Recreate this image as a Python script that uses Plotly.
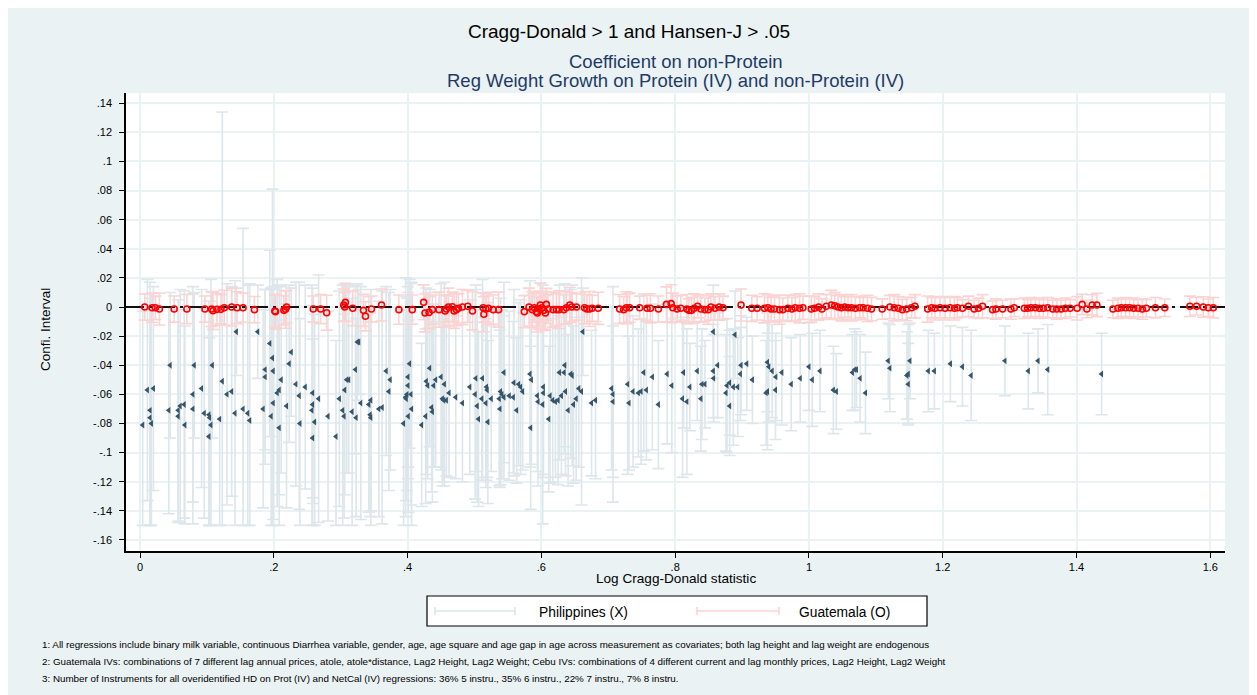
import plotly.graph_objects as go

# ---------------- data ----------------
# Philippines (X): point estimate and half-width of the CI
ph_x = [
    0.004, 0.011, 0.020, 0.015, 0.015, 0.017, 0.045, 0.043, 0.057, 0.057,
    0.060, 0.066, 0.067, 0.081, 0.079, 0.079, 0.092, 0.096, 0.103, 0.104,
    0.106, 0.103, 0.108, 0.119, 0.123, 0.130, 0.137, 0.142, 0.144, 0.154,
    0.161, 0.164, 0.176, 0.184, 0.187, 0.187, 0.194, 0.198, 0.199, 0.196,
    0.199, 0.205, 0.208, 0.208, 0.211, 0.219, 0.223, 0.226, 0.233, 0.238,
    0.239, 0.247, 0.258, 0.258, 0.257, 0.261, 0.258, 0.267, 0.281, 0.293,
    0.298, 0.303, 0.305, 0.306, 0.309, 0.312, 0.317, 0.322, 0.323, 0.325,
    0.327, 0.330, 0.342, 0.345, 0.344, 0.345, 0.357, 0.362, 0.368, 0.372,
    0.374, 0.394, 0.397,
    0.4005, 0.4005, 0.403, 0.399, 0.405, 0.398, 0.401, 0.406, 0.421, 0.427,
    0.428, 0.430, 0.433, 0.436, 0.437, 0.439, 0.442, 0.450, 0.452, 0.454,
    0.455, 0.458, 0.462, 0.472, 0.482, 0.493, 0.501, 0.502, 0.504, 0.506,
    0.511, 0.512, 0.517, 0.518, 0.519, 0.520, 0.525, 0.537, 0.538, 0.539,
    0.541, 0.544, 0.544, 0.552, 0.558, 0.559, 0.563, 0.566, 0.569, 0.572,
    0.583, 0.585, 0.584, 0.594, 0.595, 0.602, 0.603, 0.603, 0.611, 0.613,
    0.617, 0.621, 0.625, 0.627, 0.630, 0.634, 0.635, 0.636, 0.640, 0.644,
    0.646, 0.648, 0.652, 0.656, 0.660, 0.662, 0.675, 0.681, 0.705, 0.707,
    0.707, 0.729, 0.731, 0.737, 0.745, 0.749, 0.757, 0.753, 0.766, 0.775,
    0.788, 0.795,
    0.811, 0.8175, 0.8125, 0.822, 0.833, 0.8385, 0.840, 0.8445, 0.857, 0.857,
    0.8575, 0.8635, 0.876, 0.8775, 0.8815, 0.8815, 0.887, 0.8935, 0.8895, 0.8975,
    0.8985, 0.907, 0.9155, 0.936, 0.938, 0.938, 0.940, 0.945, 0.9505, 0.950,
    0.9595, 0.9735, 0.987, 1.000, 1.005, 1.0165, 1.0365, 1.041, 1.065, 1.0685,
    1.071, 1.0765, 1.0845, 1.1185, 1.121, 1.1465, 1.1485, 1.1485, 1.151, 1.1785,
    1.1875, 1.2115, 1.2295, 1.2425, 1.293, 1.328, 1.3425, 1.357, 1.4375,
]
ph_y = [
    -0.081, -0.057, -0.056, -0.071, -0.076, -0.080, -0.040, -0.071, -0.071, -0.075,
    -0.068, -0.067, -0.081, -0.040, -0.060, -0.070, -0.056, -0.073, -0.074, -0.076,
    -0.081, -0.089, -0.040, -0.077, -0.051, -0.060, -0.058, -0.073, -0.017, -0.070,
    -0.073, -0.078, -0.017, -0.070, -0.043, -0.048, -0.025, -0.035, -0.044, -0.075,
    -0.066, -0.059, -0.057, -0.083, -0.050, -0.068, -0.039, -0.031, -0.053, -0.061,
    -0.080, -0.055, -0.059, -0.067, -0.071, -0.079, -0.090, -0.063, -0.075, -0.089,
    -0.063, -0.071, -0.075, -0.057, -0.050, -0.050, -0.072, -0.043, -0.076, -0.024,
    -0.024, -0.066, -0.067, -0.064, -0.074, -0.076, -0.070, -0.069, -0.044, -0.058,
    -0.050, -0.080, -0.062,
    -0.048, -0.054, -0.039, -0.060, -0.060, -0.063, -0.075, -0.070, -0.081, -0.075,
    -0.051, -0.054, -0.042, -0.069, -0.072, -0.054, -0.050, -0.048, -0.063, -0.064,
    -0.053, -0.064, -0.059, -0.062, -0.066, -0.055, -0.060, -0.049, -0.068, -0.077,
    -0.063, -0.049, -0.066, -0.055, -0.057, -0.079, -0.063, -0.063, -0.070, -0.058,
    -0.060, -0.045, -0.062, -0.061, -0.062, -0.052, -0.071, -0.053, -0.055, -0.058,
    -0.046, -0.050, -0.083, -0.061, -0.065, -0.067, -0.055, -0.059, -0.077, -0.061,
    -0.064, -0.065, -0.064, -0.045, -0.061, -0.045, -0.040, -0.058, -0.071, -0.046,
    -0.047, -0.067, -0.063, -0.056, -0.058, -0.017, -0.066, -0.064, -0.056, -0.060,
    -0.065, -0.053, -0.066, -0.058, -0.059, -0.058, -0.057, -0.045, -0.048, -0.067,
    -0.046, -0.054,
    -0.063, -0.065, -0.045, -0.055, -0.044, -0.063, -0.053, -0.053, -0.017, -0.044,
    -0.049, -0.040, -0.059, -0.054, -0.052, -0.068, -0.055, -0.055, -0.019, -0.046,
    -0.040, -0.039, -0.050, -0.059, -0.058, -0.038, -0.041, -0.044, -0.048, -0.057,
    -0.045, -0.053, -0.049, -0.041, -0.050, -0.044, -0.057, -0.058, -0.045, -0.043,
    -0.043, -0.049, -0.059, -0.037, -0.042, -0.047, -0.046, -0.053, -0.037, -0.044,
    -0.044, -0.039, -0.041, -0.047, -0.037, -0.044, -0.037, -0.043, -0.046,
]
ph_hw = [
    0.078, 0.076, 0.070, 0.088, 0.082, 0.078, 0.050, 0.071, 0.076, 0.073,
    0.080, 0.078, 0.068, 0.050, 0.074, 0.079, 0.068, 0.072, 0.078, 0.080,
    0.100, 0.068, 0.050, 0.076, 0.185, 0.076, 0.072, 0.091, 0.030, 0.124,
    0.088, 0.094, 0.032, 0.068, 0.055, 0.060, 0.064, 0.116, 0.056, 0.088,
    0.080, 0.078, 0.072, 0.074, 0.064, 0.070, 0.054, 0.044, 0.070, 0.078,
    0.072, 0.070, 0.072, 0.068, 0.086, 0.074, 0.068, 0.085, 0.072, 0.066,
    0.074, 0.086, 0.070, 0.072, 0.064, 0.064, 0.078, 0.058, 0.068, 0.040,
    0.036, 0.080, 0.074, 0.076, 0.070, 0.076, 0.074, 0.080, 0.058, 0.068,
    0.062, 0.078, 0.082,
    0.062, 0.064, 0.058, 0.066, 0.076, 0.070, 0.066, 0.087, 0.056, 0.060,
    0.064, 0.064, 0.054, 0.058, 0.062, 0.056, 0.060, 0.064, 0.060, 0.056,
    0.070, 0.052, 0.058, 0.056, 0.054, 0.060, 0.072, 0.064, 0.066, 0.060,
    0.056, 0.068, 0.058, 0.064, 0.060, 0.056, 0.050, 0.060, 0.054, 0.064,
    0.058, 0.062, 0.056, 0.058, 0.052, 0.064, 0.050, 0.056, 0.060, 0.054,
    0.064, 0.058, 0.056, 0.052, 0.058, 0.082, 0.062, 0.056, 0.050, 0.060,
    0.056, 0.052, 0.058, 0.060, 0.054, 0.056, 0.056, 0.058, 0.052, 0.058,
    0.062, 0.054, 0.056, 0.054, 0.078, 0.030, 0.050, 0.054, 0.056, 0.074,
    0.052, 0.062, 0.046, 0.052, 0.044, 0.050, 0.048, 0.054, 0.050, 0.044,
    0.048, 0.046,
    0.054, 0.050, 0.038, 0.030, 0.034, 0.036, 0.038, 0.030, 0.032, 0.032,
    0.030, 0.036, 0.040, 0.046, 0.036, 0.034, 0.040, 0.034, 0.030, 0.032,
    0.034, 0.032, 0.030, 0.036, 0.040, 0.034, 0.038, 0.032, 0.030, 0.034,
    0.036, 0.032, 0.030, 0.030, 0.032, 0.028, 0.030, 0.026, 0.026, 0.028,
    0.026, 0.030, 0.028, 0.026, 0.030, 0.030, 0.034, 0.028, 0.026, 0.028,
    0.026, 0.026, 0.027, 0.031, 0.024, 0.026, 0.022, 0.031, 0.028,
]

# Guatemala (O): point estimate and half-width of the CI
gt_x = [
    0.007, 0.018, 0.023, 0.029, 0.051, 0.070, 0.097, 0.107, 0.109, 0.115,
    0.121, 0.126, 0.137, 0.145, 0.154, 0.171, 0.2015, 0.2025, 0.215, 0.2175,
    0.219, 0.259, 0.270, 0.279, 0.3045, 0.307, 0.306, 0.318, 0.334, 0.337,
    0.346, 0.361, 0.387,
    0.407, 0.424, 0.426, 0.432, 0.437, 0.447, 0.456, 0.458, 0.461, 0.467,
    0.4695, 0.473, 0.476, 0.482, 0.490, 0.497, 0.513, 0.514, 0.517, 0.521,
    0.528, 0.536, 0.5745, 0.5815, 0.5865, 0.5895, 0.5925, 0.594, 0.5965, 0.5985,
    0.601, 0.6035, 0.606, 0.6075, 0.610, 0.6175, 0.6225, 0.6265, 0.6335, 0.6375,
    0.6425, 0.6455, 0.6525, 0.6645, 0.668, 0.672, 0.676, 0.685, 0.717, 0.723,
    0.727, 0.732, 0.747, 0.758, 0.763, 0.775, 0.787, 0.794, 0.7965, 0.803,
    0.8085, 0.8175, 0.8205, 0.8245, 0.8285, 0.8335, 0.8385, 0.8445, 0.8495, 0.8535,
    0.8595, 0.866, 0.8715, 0.8985, 0.9145, 0.9225, 0.9335, 0.9385, 0.9435, 0.9485,
    0.956, 0.961, 0.9685, 0.9745, 0.9795, 0.986, 0.991, 1.0035, 1.0085, 1.0145,
    1.0195, 1.026, 1.0335, 1.0385, 1.0435, 1.0485, 1.0535, 1.0585, 1.0635, 1.0695,
    1.076, 1.081, 1.0875, 1.0935, 1.1095, 1.121, 1.1275, 1.1335, 1.1395, 1.146,
    1.1535, 1.1585, 1.1775, 1.1835, 1.1885, 1.196, 1.2035, 1.211, 1.2175,
    1.222, 1.2295, 1.2385, 1.247, 1.2535, 1.2595, 1.2745, 1.2795, 1.2895, 1.302,
    1.307, 1.322, 1.327, 1.332, 1.3385, 1.3445, 1.3505, 1.357, 1.3645, 1.3705,
    1.377, 1.3835, 1.3905, 1.401, 1.4085, 1.4155, 1.4235, 1.4305, 1.4545, 1.462,
    1.467, 1.4735, 1.4795, 1.4855, 1.492, 1.4985, 1.5045, 1.518, 1.532, 1.5695,
    1.5795, 1.5895, 1.597, 1.6045,
]
gt_y = [
    0.0, -0.0005, -0.0005, -0.0014, -0.0014, -0.0014, -0.0014, -0.0014, -0.0025, -0.0016,
    -0.0016, -0.0005, 0.0, -0.0005, -0.0005, -0.0018, -0.0027, -0.0032, -0.0023, -0.0016,
    0.0, -0.0014, -0.0014, -0.0039, 0.0014, 0.0032, 0.0, -0.0009, -0.0023, -0.0064,
    -0.0014, 0.0014, -0.0018,
    -0.0018, 0.0032, -0.0041, -0.0037, -0.0018, -0.0018, -0.0027, -0.0014, 0.0, 0.0002,
    -0.0027, -0.0018, -0.0009, 0.0, 0.0005, -0.0027, -0.0005, -0.005, -0.0014, -0.0009,
    -0.0018, -0.0018, -0.0032, 0.0, -0.0018, -0.0005, -0.0032, -0.0041, -0.0014, 0.0014,
    -0.0005, -0.0023, -0.0041, 0.0018, -0.0014, -0.0018, -0.0018, -0.0018, -0.0018, -0.0005,
    0.0014, 0.0, 0.0, -0.0005, -0.0014, -0.0014, -0.0009, -0.0009, -0.0014, -0.0018,
    -0.0005, -0.0005, -0.0005, -0.0009, -0.0009, -0.0014, 0.0018, 0.0023, -0.0005, -0.0014,
    -0.0009, -0.0014, -0.0023, -0.0023, -0.0009, 0.0005, -0.0014, -0.0018, -0.0018, 0.0,
    -0.0009, 0.0, -0.0005, 0.0014, -0.0009, -0.0009, -0.0009, -0.0005, -0.0014, -0.0014,
    -0.0018, -0.0018, -0.0009, -0.0014, -0.0005, -0.0009, -0.0005, -0.0014, -0.0009, 0.0,
    -0.0014, 0.0005, 0.0014, 0.0009, 0.0, -0.0005, 0.0, -0.0005, -0.0005, -0.0009,
    -0.0005, -0.0005, -0.0009, -0.0014, -0.0014, 0.0, -0.0005, -0.0009, -0.0018, -0.0014,
    -0.0005, 0.0005, -0.0014, -0.0005, -0.0009, -0.0005, -0.0009, -0.0005, -0.0009,
    -0.0005, -0.0009, 0.0005, -0.0014, -0.0009, 0.0005, -0.0018, -0.0014, -0.0014, -0.0014,
    -0.0005, -0.0009, -0.0009, -0.0005, -0.0005, -0.0009, -0.0009, -0.0005, -0.0014, -0.0014,
    -0.0014, -0.0009, -0.0009, -0.0009, 0.0018, -0.0014, 0.0014, 0.0014, -0.0014, -0.0009,
    -0.0005, -0.0005, -0.0005, -0.0009, -0.0009, -0.0014, -0.0009, -0.0005, -0.0005, 0.0005,
    0.0005, 0.0, -0.0005, -0.0005,
]
gt_hw = [
    0.009, 0.010, 0.008, 0.011, 0.009, 0.010, 0.009, 0.012, 0.013, 0.011,
    0.010, 0.012, 0.013, 0.011, 0.010, 0.009, 0.011, 0.012, 0.010, 0.013,
    0.011, 0.009, 0.010, 0.012, 0.011, 0.013, 0.010, 0.012, 0.011, 0.010,
    0.009, 0.011, 0.010,
    0.010, 0.012, 0.013, 0.011, 0.010, 0.012, 0.011, 0.009, 0.013, 0.010,
    0.012, 0.011, 0.010, 0.012, 0.011, 0.013, 0.010, 0.012, 0.009, 0.011,
    0.010, 0.012, 0.011, 0.013, 0.012, 0.010, 0.014, 0.011, 0.012, 0.015,
    0.010, 0.013, 0.012, 0.011, 0.010, 0.012, 0.011, 0.013, 0.010, 0.011,
    0.012, 0.010, 0.009, 0.011, 0.010, 0.012, 0.009, 0.011, 0.010, 0.009,
    0.011, 0.010, 0.008, 0.009, 0.010, 0.009, 0.012, 0.013, 0.010, 0.009,
    0.009, 0.010, 0.008, 0.009, 0.010, 0.008, 0.009, 0.008, 0.010, 0.009,
    0.008, 0.009, 0.008, 0.011, 0.009, 0.008, 0.010, 0.009, 0.008, 0.009,
    0.010, 0.008, 0.009, 0.008, 0.009, 0.010, 0.008, 0.009, 0.008, 0.009,
    0.007, 0.008, 0.010, 0.009, 0.008, 0.009, 0.007, 0.008, 0.009, 0.008,
    0.007, 0.008, 0.009, 0.008, 0.007, 0.008, 0.009, 0.008, 0.007, 0.008,
    0.007, 0.008, 0.009, 0.007, 0.008, 0.007, 0.008, 0.007, 0.008,
    0.007, 0.006, 0.007, 0.006, 0.007, 0.008, 0.006, 0.007, 0.006, 0.007,
    0.006, 0.007, 0.006, 0.007, 0.006, 0.007, 0.006, 0.007, 0.006, 0.007,
    0.006, 0.007, 0.006, 0.008, 0.007, 0.006, 0.007, 0.008, 0.006, 0.007,
    0.006, 0.007, 0.006, 0.007, 0.006, 0.007, 0.006, 0.007, 0.006, 0.007,
    0.006, 0.007, 0.006, 0.007,
]

CI_FLOOR = -0.15  # CIs truncated at -.15 in the original

y_ticks = [0.14, 0.12, 0.10, 0.08, 0.06, 0.04, 0.02, 0.0, -0.02, -0.04, -0.06,
           -0.08, -0.10, -0.12, -0.14, -0.16]
y_tick_labels = [".14", ".12", ".1", ".08", ".06", ".04", ".02", "0", "-.02", "-.04",
                 "-.06", "-.08", "-.1", "-.12", "-.14", "-.16"]
x_ticks = [0, 0.2, 0.4, 0.6, 0.8, 1.0, 1.2, 1.4, 1.6]
x_tick_labels = ["0", ".2", ".4", ".6", ".8", "1", "1.2", "1.4", "1.6"]
X_RANGE = [-0.021, 1.622]
Y_RANGE = [-0.1676, 0.147]

title_main = "Cragg-Donald > 1 and Hansen-J > .05"
subtitle_1 = "Coefficient on non-Protein"
subtitle_2 = "Reg Weight Growth on Protein (IV) and non-Protein (IV)"
x_title = "Log Cragg-Donald statistic"
y_title = "Confi. Interval"
legend_names = ["Philippines (X)", "Guatemala (O)"]
footnotes = [
    "1: All regressions include binary milk variable, continuous Diarrhea variable, gender, age, age square and age gap in age across measurement as covariates; both lag height and lag weight are endogenous",
    "2: Guatemala IVs: combinations of 7 different lag annual prices, atole, atole*distance, Lag2 Height, Lag2 Weight; Cebu IVs: combinations of 4 different current and lag monthly prices, Lag2 Height, Lag2 Weight",
    "3: Number of Instruments for all overidentified HD on Prot (IV) and NetCal (IV) regressions: 36% 5 instru., 35% 6 instru., 22% 7 instru., 7% 8 instru.",
]

# ---------------- layout geometry (pixels; page has 8px body margin) ----------------
OFF = 8
W, H = 1249, 687
L, R, T, B = 118, 1217, 85, 543
FONT = "Liberation Sans, Arial, Helvetica, sans-serif"
BG = "#EAF2F3"
PH_BAR = "#DDE6EA"
GT_BAR = "#FCD3D3"
PH_MARK = "#35556D"


def px(xr):
    # screen x (as seen in the page) -> paper x
    return (xr - OFF - L) / (R - L)


def py(yr):
    # screen y (as seen in the page) -> paper y
    return (B - (yr - OFF)) / (B - T)


n_ph = min(len(ph_x), len(ph_y), len(ph_hw))
n_gt = min(len(gt_x), len(gt_y), len(gt_hw))
ph_x, ph_y, ph_hw = ph_x[:n_ph], ph_y[:n_ph], ph_hw[:n_ph]
gt_x, gt_y, gt_hw = gt_x[:n_gt], gt_y[:n_gt], gt_hw[:n_gt]
ph_minus = [min(h, y - CI_FLOOR) for y, h in zip(ph_y, ph_hw)]
gt_minus = [min(h, y - CI_FLOOR) for y, h in zip(gt_y, gt_hw)]

fig = go.Figure()

fig.add_trace(go.Scatter(
    x=ph_x, y=ph_y, mode="markers", name=legend_names[0], showlegend=False,
    marker=dict(symbol="triangle-left", size=6, color=PH_MARK),
    error_y=dict(type="data", symmetric=False, array=ph_hw, arrayminus=ph_minus,
                 color=PH_BAR, thickness=1.6, width=6),
))
fig.add_trace(go.Scatter(
    x=gt_x, y=gt_y, mode="markers", showlegend=False,
    marker=dict(size=6, color="rgba(0,0,0,0)"),
    error_y=dict(type="data", symmetric=False, array=gt_hw, arrayminus=gt_minus,
                 color=GT_BAR, thickness=1.6, width=6),
    hoverinfo="skip",
))
# zero reference line
fig.add_trace(go.Scatter(
    x=X_RANGE, y=[0, 0], mode="lines", showlegend=False, hoverinfo="skip",
    line=dict(color="#111111", width=2, dash="18px,5px,3px,5px"),
))
fig.add_trace(go.Scatter(
    x=gt_x, y=gt_y, mode="markers", name=legend_names[1], showlegend=False,
    marker=dict(symbol="circle-open", size=6, color="#FF0000",
                line=dict(width=1.6, color="#FF0000")),
))

annotations = [
    dict(text=title_main, x=px(629), xref="paper", y=py(32), yref="paper",
         xanchor="center", yanchor="middle", showarrow=False,
         font=dict(family=FONT, size=19, color="#000000")),
    dict(text=subtitle_1, x=0.5, y=py(61), xref="paper", yref="paper",
         xanchor="center", yanchor="middle", showarrow=False,
         font=dict(family=FONT, size=18.5, color="#1F3A68")),
    dict(text=subtitle_2, x=0.5, y=py(80), xref="paper", yref="paper",
         xanchor="center", yanchor="middle", showarrow=False,
         font=dict(family=FONT, size=18.5, color="#1F3A68")),
    dict(text=x_title, x=0.5, y=py(578), xref="paper", yref="paper",
         xanchor="center", yanchor="middle", showarrow=False,
         font=dict(family=FONT, size=13.6, color="#000000")),
    dict(text=y_title, x=px(45), y=py(330), xref="paper", yref="paper",
         xanchor="center", yanchor="middle", showarrow=False, textangle=-90,
         font=dict(family=FONT, size=13.5, color="#000000")),
    dict(text=legend_names[0], x=px(537), y=py(612), xref="paper", yref="paper",
         xanchor="left", yanchor="middle", showarrow=False,
         font=dict(family=FONT, size=13.8, color="#000000")),
    dict(text=legend_names[1], x=px(797), y=py(612), xref="paper", yref="paper",
         xanchor="left", yanchor="middle", showarrow=False,
         font=dict(family=FONT, size=13.8, color="#000000")),
]
for txt, yy in zip(footnotes, [644, 661, 678]):
    annotations.append(dict(text=txt, x=px(40), y=py(yy), xref="paper", yref="paper",
                            xanchor="left", yanchor="middle", showarrow=False,
                            font=dict(family=FONT, size=9.8, color="#000000")))

shapes = [
    # legend box
    dict(type="rect", xref="paper", yref="paper", x0=px(427), x1=px(927), y0=py(596), y1=py(626),
         fillcolor="white", line=dict(color="#000000", width=1.2)),
    dict(type="line", xref="paper", yref="paper", x0=px(435), x1=px(515), y0=py(611), y1=py(611),
         line=dict(color=PH_BAR, width=1.6)),
    dict(type="line", xref="paper", yref="paper", x0=px(435), x1=px(435), y0=py(607), y1=py(615),
         line=dict(color=PH_BAR, width=1.6)),
    dict(type="line", xref="paper", yref="paper", x0=px(515), x1=px(515), y0=py(607), y1=py(615),
         line=dict(color=PH_BAR, width=1.6)),
    dict(type="line", xref="paper", yref="paper", x0=px(697), x1=px(779), y0=py(611), y1=py(611),
         line=dict(color=GT_BAR, width=1.6)),
    dict(type="line", xref="paper", yref="paper", x0=px(697), x1=px(697), y0=py(607), y1=py(615),
         line=dict(color=GT_BAR, width=1.6)),
    dict(type="line", xref="paper", yref="paper", x0=px(779), x1=px(779), y0=py(607), y1=py(615),
         line=dict(color=GT_BAR, width=1.6)),
]

fig.update_layout(
    width=W, height=H,
    margin=dict(l=L, r=W - R, t=T, b=H - B, pad=0),
    paper_bgcolor=BG, plot_bgcolor="white",
    showlegend=False,
    font=dict(family=FONT, size=11, color="#000000"),
    annotations=annotations, shapes=shapes,
    xaxis=dict(range=X_RANGE, tickvals=x_ticks, ticktext=x_tick_labels,
               showgrid=True, gridcolor=BG, gridwidth=1.6, zeroline=False,
               showline=True, linecolor="#000000", linewidth=1.5,
               ticks="outside", ticklen=5, tickwidth=1.2, tickcolor="#000000",
               tickfont=dict(family=FONT, size=11, color="#000000")),
    yaxis=dict(range=Y_RANGE, tickvals=y_ticks, ticktext=y_tick_labels,
               showgrid=True, gridcolor=BG, gridwidth=1.6, zeroline=False,
               showline=True, linecolor="#000000", linewidth=1.5,
               ticks="outside", ticklen=5, tickwidth=1.2, tickcolor="#000000",
               ticklabelstandoff=5,
               tickfont=dict(family=FONT, size=11, color="#000000")),
)

fig.write_html("out.html")
